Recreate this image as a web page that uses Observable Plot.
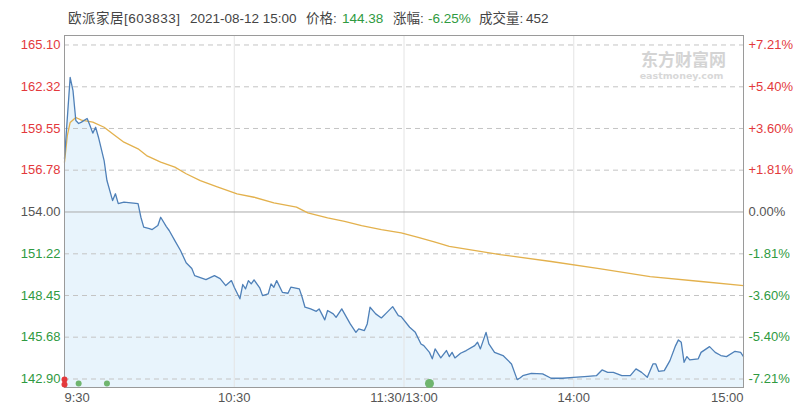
<!DOCTYPE html>
<html><head><meta charset="utf-8">
<script src="https://cdn.jsdelivr.net/npm/d3@7"></script>
<script src="https://cdn.jsdelivr.net/npm/@observablehq/plot@0.6"></script>
<style>
body{margin:0;background:#fff;font-family:"Liberation Sans",Arial,"Noto Sans CJK SC",sans-serif;}
#wrap{position:relative;width:804px;height:409px;overflow:hidden}
#hdr{position:absolute;left:0;top:11px;width:804px;height:18px;font-size:13.5px;color:#444;white-space:nowrap;line-height:16px}
#hdr span{position:absolute;top:0}
#hdr .g{color:#2f9a41}
#hdr .n{letter-spacing:0.5px}
#chart{position:absolute;left:0;top:0}
</style></head><body><div id="wrap"><div id="chart"></div><div id="hdr"></div></div>
<script>
// ---- header text ----
const stockName = "欧派家居";
const stockCode = "603833";
const dateTime = "2021-08-12 15:00";
const lastPrice = "144.38";
const changePct = "-6.25%";
const volume = "452";

// ---- intraday price (minutes after 9:30, trading minutes) ----
const priceMinutes = [0,2,3,4,5,6,8,9,10,11,12,14,15,17,18,19,21,26,27,28,30,31,33,34,36,37,39,41,43,45,46,48,50,53,55,57,59,60,62,63,64,65,66,67,69,70,72,73,74,75,77,79,80,83,84,85,87,89,90,92,93,95,96,98,99,101,103,104,106,107,108,110,112,114,116,118,119,122,124,126,127,129,130,131,133,135,136,137,138,140,142,145,146,147,149,150,152,155,158,160,161,162,165,169,172,176,180,185,188,190,192,194,197,200,202,204,206,208,209,210,212,214,216,217,218,219,220,221,224,225,228,230,232,234,237,239,240];
const prices = [157.55,162.94,162.07,160.08,159.88,159.97,160.21,159.75,159.24,159.63,158.97,157.42,156.09,154.76,155.21,154.56,154.65,154.56,153.65,152.99,152.90,152.83,153.10,153.65,153.03,152.77,152.10,151.44,150.63,150.24,149.77,149.64,149.51,149.77,149.57,149.11,149.44,149.00,148.23,149.18,148.89,149.44,149.22,149.49,148.96,148.44,148.56,149.22,149.00,149.44,148.66,148.60,149.00,148.89,148.33,147.67,147.56,147.40,147.56,146.83,147.45,147.23,147.00,147.56,147.23,146.56,146.00,146.23,146.12,146.56,147.67,147.23,146.96,147.33,147.71,147.11,147.05,146.34,146.00,145.23,145.12,144.67,144.24,144.90,144.30,144.79,144.39,144.67,144.30,144.61,144.79,145.12,145.34,144.90,146.00,145.23,144.67,144.46,143.90,142.86,142.97,143.12,143.28,143.24,142.95,142.95,143.01,143.08,143.12,143.50,143.34,143.34,143.12,143.12,143.57,143.34,143.01,143.90,143.90,143.41,143.46,144.12,145.12,145.50,145.34,144.01,144.39,144.17,144.24,144.67,145.05,144.67,144.46,144.39,144.74,144.67,144.38];

// ---- average price line ----
const avgMinutes = [0,1,2,4,6,10,14,17,21,26,29,34,39,43,48,54,61,67,74,82,86,93,99,105,112,119,125,131,136,154,172,189,207,225,240];
const avgPrices = [157.31,159.08,159.95,160.28,160.11,159.97,159.63,159.20,158.64,158.20,157.75,157.31,156.98,156.54,156.09,155.67,155.21,154.98,154.61,154.32,153.94,153.61,153.38,153.10,152.83,152.61,152.32,151.99,151.72,151.17,150.71,150.24,149.71,149.38,149.11];

// ---- big-order markers (minutes) ----
const sellMarkMinutes = [0];
const buyMarkMinutes = [5, 15];
const bigBuyMarkMinutes = [129];

// ---- axes ----
const prevClose = 154.00;
const yTicks = [165.10,162.32,159.55,156.78,154.00,151.22,148.45,145.68,142.90];
const yTickLabels = ["165.10","162.32","159.55","156.78","154.00","151.22","148.45","145.68","142.90"];
const pctTickLabels = ["+7.21%","+5.40%","+3.60%","+1.81%","0.00%","-1.81%","-3.60%","-5.40%","-7.21%"];
const xTicks = [0,60,120,180,240];
const xTickLabels = ["9:30","10:30","11:30/13:00","14:00","15:00"];
const watermarkCn = "东方财富网";
const watermarkEn = "eastmoney.com";

// header (each piece placed like the reference)
const hdrParts = [
  [`${stockName}[${stockCode}]`, 68, "n"],
  [dateTime, 190, ""],
  ["价格:", 306, ""],
  [lastPrice, 342, "g"],
  ["涨幅:", 393, ""],
  [changePct, 428, "g"],
  ["成交量:", 479, ""],
  [volume, 526, ""]
];
document.getElementById("hdr").innerHTML = hdrParts
  .map(([t, x, c]) => `<span class="${c}" style="left:${x}px">${t}</span>`).join("");

const RED = "#e3393c", GREEN = "#2f9a41", GRAY = "#555";
const priceData = priceMinutes.map((m, i) => ({m, p: prices[i]}));
const avgData = avgMinutes.map((m, i) => ({m, p: avgPrices[i]}));
const yData = yTicks.map((v, i) => ({v, label: yTickLabels[i], pct: pctTickLabels[i]}));
const xData = xTicks.map((v, i) => ({v, label: xTickLabels[i]}));
const yMin = 142.335, yMax = 165.73;
const tickColor = d => d.v > prevClose + 1e-9 ? RED : (d.v < prevClose - 1e-9 ? GREEN : GRAY);

const chart = Plot.plot({
  width: 804, height: 409,
  marginLeft: 64, marginRight: 61, marginTop: 35, marginBottom: 22,
  style: {fontFamily: '"Liberation Sans", Arial, "Noto Sans CJK SC", sans-serif', fontSize: "13px", background: "transparent"},
  x: {domain: [0, 240], axis: null},
  y: {domain: [yMin, yMax], axis: null},
  marks: [
    Plot.areaY(priceData, {x: "m", y1: yMin, y2: "p", fill: "#e8f4fc", curve: "linear"}),
    Plot.ruleX(xTicks.slice(1, -1), {stroke: "#e4e4e4", strokeWidth: 1}),
    Plot.ruleY(yTicks.filter(v => v !== prevClose), {stroke: "#c4c4c4", strokeDasharray: "5,4"}),
    Plot.ruleY([prevClose], {stroke: "#aaaaaa"}),
    Plot.text([watermarkCn], {frameAnchor: "top-right", text: d => d, dx: -60, dy: 18, textAnchor: "middle", fontSize: 17, fontWeight: "bold", fill: "#d4d4d4", fontFamily: '"Noto Sans CJK SC", sans-serif'}),
    Plot.text([watermarkEn], {frameAnchor: "top-right", text: d => d, dx: -62, dy: 37, textAnchor: "middle", fontSize: 9.5, fontWeight: "bold", fill: "#d8d8d8", fontFamily: '"DejaVu Sans", sans-serif'}),
    Plot.lineY(avgData, {x: "m", y: "p", stroke: "#e3b14d", strokeWidth: 1.3}),
    Plot.lineY(priceData, {x: "m", y: "p", stroke: "#4f80b8", strokeWidth: 1.3}),
    Plot.frame({stroke: "#9a9a9a"}),
    Plot.text(yData, {y: "v", text: "label", frameAnchor: "left", textAnchor: "end", dx: -4, fill: tickColor}),
    Plot.text(yData, {y: "v", text: "pct", frameAnchor: "right", textAnchor: "start", dx: 5, fill: tickColor}),
    Plot.text(xData, {x: "v", text: "label", frameAnchor: "bottom", dy: 14, fill: GRAY, textAnchor: "middle"}),
    Plot.dot(sellMarkMinutes, {x: d => d, frameAnchor: "bottom", dy: -8, r: 3, fill: RED, stroke: "none"}),
    Plot.dot(sellMarkMinutes, {x: d => d, frameAnchor: "bottom", dy: -3, r: 3, fill: RED, stroke: "none"}),
    Plot.dot(buyMarkMinutes, {x: d => d, frameAnchor: "bottom", dy: -4, r: 3, fill: "#6fb56f", stroke: "none"}),
    Plot.dot(bigBuyMarkMinutes, {x: d => d, frameAnchor: "bottom", dy: -4, r: 4.5, fill: "#6fb56f", stroke: "none"})
  ]
});
document.getElementById("chart").appendChild(chart);
// first / last time labels are anchored at the frame edges like the reference
chart.querySelectorAll("text").forEach(t => {
  if (t.textContent === xTickLabels[0]) t.setAttribute("text-anchor", "start");
  if (t.textContent === xTickLabels[xTickLabels.length - 1]) t.setAttribute("text-anchor", "end");
});
</script>
</body></html>
